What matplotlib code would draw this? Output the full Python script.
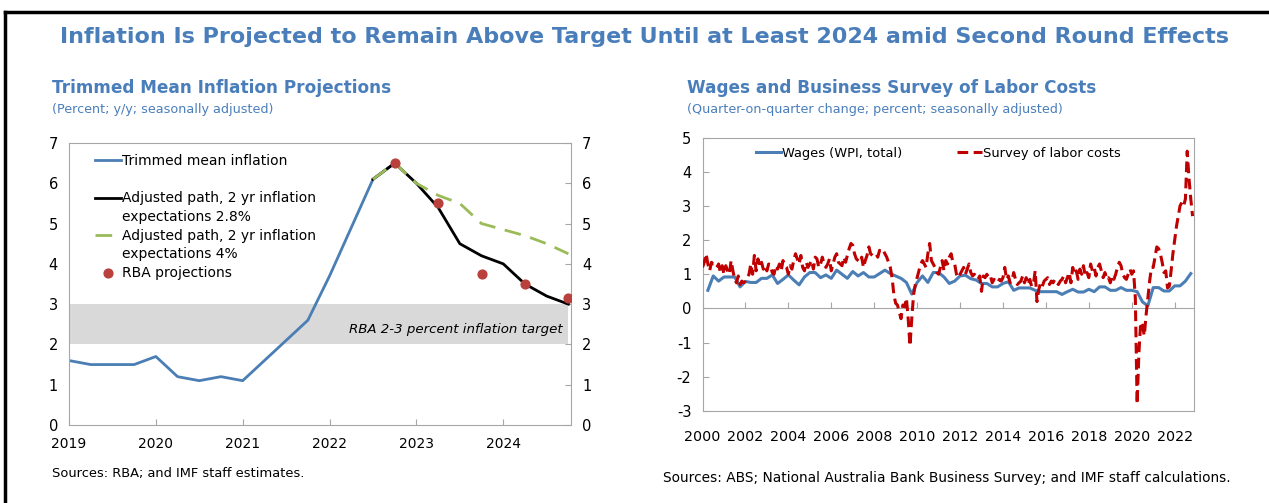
import numpy as np
import matplotlib.pyplot as plt
from matplotlib.lines import Line2D

# ---- left panel: trimmed mean inflation (quarterly, 2019Q1 onwards)
tm_start = 2019.0
trimmed_mean = [1.6, 1.5, 1.5, 1.5, 1.7, 1.2, 1.1, 1.2, 1.1, 1.6, 2.1, 2.6,
                3.7, 4.9, 6.1, 6.5]
path_start = 2022.5
path_28 = [6.1, 6.5, 6.0, 5.4, 4.5, 4.2, 4.0, 3.5, 3.2, 3.0]
path_40 = [6.1, 6.5, 6.0, 5.7, 5.5, 5.0, 4.85, 4.7, 4.5, 4.25]
rba_dates = [2022.75, 2023.25, 2023.75, 2024.25, 2024.75]
rba_proj = [6.5, 5.5, 3.75, 3.5, 3.15]
target_band = (2, 3)
left_years = [2019, 2020, 2021, 2022, 2023, 2024]

# ---- right panel: wages (quarterly from 2000Q2) and NAB survey (monthly)
wpi_start = 2000.25
wpi = [0.53, 0.95, 0.80, 0.92, 0.92, 0.92, 0.63, 0.79, 0.76, 0.76, 0.88, 0.88,
       0.98, 0.73, 0.85, 0.98, 0.83, 0.69, 0.92, 1.05, 1.05, 0.90, 0.98, 0.88,
       1.12, 1.00, 0.88, 1.08, 0.95, 1.05, 0.92, 0.92, 1.02, 1.12, 1.02, 0.95,
       0.88, 0.76, 0.42, 0.76, 0.95, 0.76, 1.05, 1.05, 0.92, 0.73, 0.80, 0.95,
       0.97, 0.87, 0.83, 0.73, 0.73, 0.63, 0.63, 0.73, 0.78, 0.53, 0.60, 0.60,
       0.60, 0.53, 0.49, 0.49, 0.49, 0.49, 0.41, 0.49, 0.56, 0.48, 0.48, 0.56,
       0.49, 0.63, 0.63, 0.53, 0.53, 0.61, 0.53, 0.53, 0.49, 0.19, 0.08, 0.61,
       0.61, 0.51, 0.51, 0.66, 0.66, 0.80, 1.02]

survey_start = 2000.0
survey = [
    1.2, 1.35, 1.6, 1.3, 1.1, 1.35, 1.3, 1.3, 1.2, 1.3, 1.05, 1.25,     # 2000
    1.0, 1.25, 1.1, 1.0, 1.4, 1.1, 0.85, 0.75, 0.95, 0.7, 0.8, 0.75,    # 2001
    0.8, 0.9, 1.0, 1.3, 1.0, 1.55, 1.1, 1.45, 1.2, 1.35, 1.15, 1.25,    # 2002
    1.1, 1.3, 1.25, 1.05, 1.0, 1.25, 1.15, 1.3, 1.1, 1.4, 1.25, 1.2,    # 2003
    1.0, 1.25, 1.15, 1.4, 1.6, 1.45, 1.3, 1.55, 1.2, 1.1, 1.35, 1.2,    # 2004
    1.3, 1.4, 1.15, 1.5, 1.45, 1.2, 1.3, 1.5, 1.3, 1.2, 1.3, 1.45,      # 2005
    1.1, 1.3, 1.5, 1.6, 1.35, 1.3, 1.25, 1.5, 1.35, 1.55, 1.75, 1.9,    # 2006
    1.85, 1.6, 1.45, 1.4, 1.35, 1.5, 1.2, 1.4, 1.55, 1.8, 1.6, 1.55,    # 2007
    1.55, 1.6, 1.5, 1.7, 1.65, 1.7, 1.6, 1.5, 1.35, 1.2, 0.9, 0.4,      # 2008
    0.15, 0.1, -0.1, -0.3, 0.1, 0.05, 0.3, -0.3, -1.1, -0.3, 0.4, 0.7,  # 2009
    0.9, 1.1, 1.3, 1.4, 1.3, 1.2, 1.6, 1.9, 1.4, 1.3, 1.2, 1.05,        # 2010
    1.0, 1.2, 1.4, 1.1, 1.4, 1.3, 1.5, 1.6, 1.35, 1.3, 1.0, 0.9,        # 2011
    1.0, 1.1, 1.2, 1.0, 1.15, 1.3, 1.05, 0.95, 1.0, 0.9, 0.85, 0.95,    # 2012
    0.5, 0.95, 0.9, 1.0, 0.9, 0.95, 0.75, 0.85, 0.8, 0.75, 0.85, 0.8,   # 2013
    0.9, 1.2, 0.85, 0.95, 0.75, 0.8, 1.05, 0.85, 0.7, 0.75, 0.8, 0.95,  # 2014
    0.75, 0.9, 0.7, 0.85, 0.65, 0.7, 1.1, 0.2, 0.55, 0.75, 0.65, 0.8,   # 2015
    0.85, 0.9, 0.7, 0.8, 0.75, 0.85, 0.75, 0.7, 0.8, 0.85, 0.95, 0.75,  # 2016
    0.9, 1.05, 0.75, 1.2, 1.0, 1.1, 0.85, 1.15, 1.0, 1.25, 0.95, 1.05,  # 2017
    0.9, 1.3, 1.1, 1.2, 0.95, 1.2, 1.3, 1.1, 0.9, 1.05, 0.85, 0.9,      # 2018
    0.75, 0.95, 0.85, 1.0, 1.2, 1.35, 1.25, 1.0, 0.9, 0.85, 1.0, 1.15,  # 2019
    1.0, 1.1, 0.3, -2.8, -1.3, -0.4, -0.5, -0.8, -0.2, 0.3, 0.8, 1.2,   # 2020
    1.2, 1.5, 1.8, 1.75, 1.6, 1.35, 1.05, 1.1, 0.6, 0.65, 1.1, 1.6,     # 2021
    2.0, 2.4, 2.7, 3.0, 3.1, 3.0, 3.2, 4.6, 3.8, 3.2, 2.7,              # 2022
]
right_years = list(range(2000, 2023, 2))

BLUE = "#4a7eb4"
TITLE = "#4a7ebb"
RED = "#c00000"
GREEN = "#9bbb59"
DOT = "#b9403b"
SPINE = "#a6a6a6"

plt.rcParams["font.family"] = "DejaVu Sans"
plt.rcParams["axes.unicode_minus"] = False

W, H = 1269, 503
fig = plt.figure(figsize=(W / 100, H / 100), dpi=100)


def box(x0, y0, x1, y1):
    return [x0 / W, 1 - y1 / H, (x1 - x0) / W, (y1 - y0) / H]


# frame lines
fig.add_artist(Line2D([5 / W, 1], [1 - 12 / H] * 2, color="black", lw=2.5))
fig.add_artist(Line2D([5 / W] * 2, [0, 1 - 12 / H], color="black", lw=2.5))

fig.text(645 / W, 1 - 37 / H, "Inflation Is Projected to Remain Above Target Until at Least 2024 amid Second Round Effects",
         ha="center", va="center", fontsize=16, fontweight="bold", color=TITLE)
fig.text(52 / W, 1 - 88 / H, "Trimmed Mean Inflation Projections", ha="left", va="center",
         fontsize=12.2, fontweight="bold", color=TITLE)
fig.text(52 / W, 1 - 109 / H, "(Percent; y/y; seasonally adjusted)", ha="left", va="center",
         fontsize=9.2, color=TITLE)
fig.text(687 / W, 1 - 88 / H, "Wages and Business Survey of Labor Costs", ha="left", va="center",
         fontsize=12.2, fontweight="bold", color=TITLE)
fig.text(687 / W, 1 - 109 / H, "(Quarter-on-quarter change; percent; seasonally adjusted)", ha="left",
         va="center", fontsize=9.2, color=TITLE)
fig.text(52 / W, 1 - 473 / H, "Sources: RBA; and IMF staff estimates.", ha="left", va="center", fontsize=9.4)
fig.text(663 / W, 1 - 478 / H, "Sources: ABS; National Australia Bank Business Survey; and IMF staff calculations.",
         ha="left", va="center", fontsize=9.9)

# ---- left panel
ax = fig.add_axes(box(69, 143, 571, 425))
x_tm = tm_start + 0.25 * np.arange(len(trimmed_mean))
x_path = path_start + 0.25 * np.arange(len(path_28))
ax.axhspan(*target_band, xmin=0, xmax=(2024.75 - 2019) / (2024.78 - 2019), color="#d9d9d9", lw=0)
l_tm, = ax.plot(x_tm, trimmed_mean, color=BLUE, lw=2)
l_28, = ax.plot(x_path, path_28, color="black", lw=2)
l_40, = ax.plot(x_path, path_40, color=GREEN, lw=2, dashes=(6, 3.5))
dots = ax.scatter(rba_dates, rba_proj, s=40, color=DOT, zorder=5)
ax.text(2024.68, 2.38, "RBA 2-3 percent inflation target", ha="right", va="center",
        fontsize=9.6, style="italic")
ax.set_xlim(2019, 2024.78)
ax.set_ylim(0, 7)
ax.set_xticks(left_years)
ax.set_yticks(range(0, 8))
ax.tick_params(axis="x", direction="in", length=4, color=SPINE, labelsize=10, pad=9)
ax.tick_params(axis="y", direction="in", length=4, color=SPINE, left=False, right=True,
               labelleft=True, labelright=True, labelsize=10.5, pad=8)
for s in ax.spines.values():
    s.set_color(SPINE)

# legend: wrapped labels with the key on the first line, as in the original
blank = Line2D([], [], color="none")
handles = [l_tm, blank, l_28, blank, l_40, blank, dots]
labels = ["Trimmed mean inflation", "", "Adjusted path, 2 yr inflation", "expectations 2.8%",
          "Adjusted path, 2 yr inflation", "expectations 4%", "RBA projections"]
ax.legend(handles, labels, loc="upper left", bbox_to_anchor=(0.04, 0.98), frameon=False,
          fontsize=10, handlelength=1.9, handletextpad=0.1, labelspacing=0.33, borderaxespad=0)

# ---- right panel
ax2 = fig.add_axes(box(702.5, 137.5, 1194, 411))
x_wpi = wpi_start + 0.25 * np.arange(len(wpi))
x_sv = survey_start + np.arange(len(survey)) / 12
ax2.plot(x_wpi, wpi, color=BLUE, lw=2.2, label="Wages (WPI, total)", zorder=3)
ax2.plot(x_sv, survey, color=RED, lw=2.2, dashes=(3.5, 1.8), label="Survey of labor costs", zorder=4)
ax2.set_xlim(2000, 2022.9)
ax2.set_ylim(-3, 5)
ax2.set_xticks(right_years)
ax2.set_yticks(range(-3, 6))
ax2.tick_params(axis="x", bottom=False, labelsize=10.3, pad=10)
ax2.tick_params(axis="y", direction="in", length=4, color=SPINE, labelsize=10.5, pad=8)
for s in ax2.spines.values():
    s.set_color(SPINE)
zero = ax2.secondary_xaxis(3 / 8)
zero.set_xticks(right_years)
zero.tick_params(direction="in", length=4, color=SPINE, labelbottom=False)
zero.spines["bottom"].set_color(SPINE)
ax2.legend(loc="upper center", bbox_to_anchor=(0.48, 0.985), ncol=2, frameon=False, fontsize=9.4,
           handlelength=1.9, handletextpad=0.1, columnspacing=4.2, borderaxespad=0)

fig.savefig("out.png", dpi=100)
